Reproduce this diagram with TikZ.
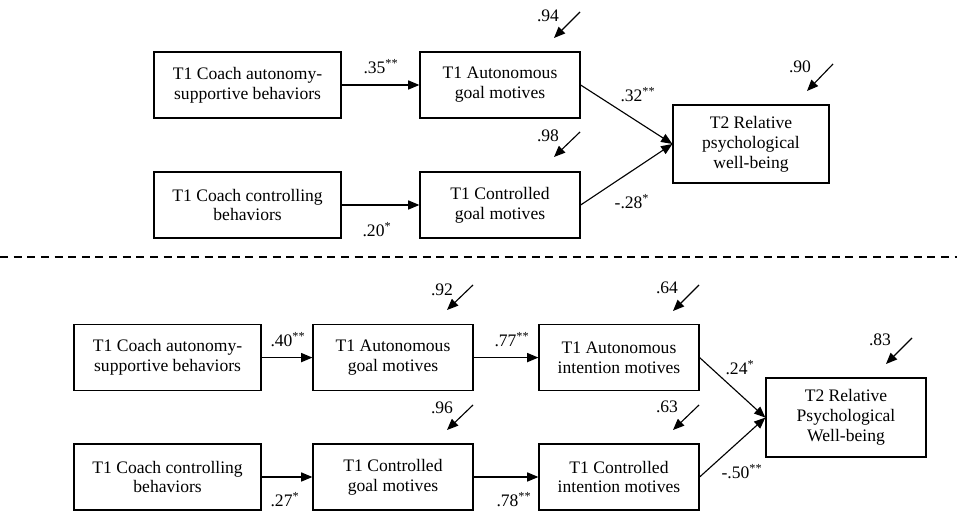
\documentclass[tikz,border=0pt]{standalone}
\usepackage{fontspec}
\setmainfont{Liberation Serif}
\usetikzlibrary{arrows.meta}

\begin{document}
\begin{tikzpicture}[
        box/.style={draw, line width=.9pt, align=center, inner sep=0pt,
                    minimum width=4cm, minimum height=1.65cm},
        wide/.style={box, minimum width=4.675cm},
        link/.style={line width=.8pt, -{Triangle[length=8pt,width=6.5pt]}},
        coef/.style={inner sep=0pt},
        font=\fontsize{12.5}{14.2}\selectfont]
    \useasboundingbox (0,0) rectangle (23.925,-12.8);

    % top model
    \node[wide] (A1) at (6.19,-2.125) {T1 Coach autonomy-\\supportive behaviors};
    \node[box] (B1) at (12.5,-2.125) {T1 Autonomous\\goal motives};
    \node[wide] (A2) at (6.19,-5.125) {T1 Coach controlling\\behaviors};
    \node[box] (B2) at (12.5,-5.125) {T1 Controlled\\goal motives};
    \node[box, minimum width=3.9cm, minimum height=1.95cm] (D) at (18.775,-3.6) {T2 Relative\\psychological\\well-being};

    \draw[link] (A1) -- (B1);
    \draw[link] (A2) -- (B2);
    \draw[link] (B1.east) -- (D.west);
    \draw[link] (B2.east) -- (D.west);

    \node[coef] (c35) at (9.525,-1.675) {.35\textsuperscript{**}};
    \node[coef] (c20) at (9.425,-5.75) {.20\textsuperscript{*}};
    \node[coef] (c32) at (15.95,-2.375) {.32\textsuperscript{**}};
    \node[coef] (c28) at (15.8,-5.05) {-.28\textsuperscript{*}};

    % residuals
    \node[coef] (r94) at (13.7,-0.4) {.94};
    \node[coef] (r98) at (13.7,-3.4) {.98};
    \node[coef] (r90) at (20.0,-1.675) {.90};
    \coordinate (s94) at (14.5,-0.3);   \coordinate (t94) at (13.85,-0.95);
    \coordinate (s98) at (14.5,-3.3);   \coordinate (t98) at (13.85,-3.925);
    \coordinate (s90) at (20.825,-1.6); \coordinate (t90) at (20.175,-2.275);
    \draw[link] (s94) -- (t94);
    \draw[link] (s98) -- (t98);
    \draw[link] (s90) -- (t90);

    % separator
    \coordinate (sepL) at (0,-6.425);
    \coordinate (sepR) at (23.925,-6.425);
    \draw[line width=.8pt, dash pattern=on 5.7pt off 4pt] (sepL) -- (sepR);

    % bottom model
    \node[wide] (E1) at (4.19,-8.94) {T1 Coach autonomy-\\supportive behaviors};
    \node[box] (F1) at (9.825,-8.94) {T1 Autonomous\\goal motives};
    \node[box] (G1) at (15.475,-8.94) {T1 Autonomous\\intention motives};
    \node[wide] (E2) at (4.19,-11.925) {T1 Coach controlling\\behaviors};
    \node[box] (F2) at (9.825,-11.925) {T1 Controlled\\goal motives};
    \node[box] (G2) at (15.475,-11.925) {T1 Controlled\\intention motives};
    \node[box, minimum height=1.975cm] (H) at (21.15,-10.44) {T2 Relative\\Psychological\\Well-being};

    \draw[link] (E1) -- (F1);
    \draw[link] (F1) -- (G1);
    \draw[link] (E2) -- (F2);
    \draw[link] (F2) -- (G2);
    \draw[link] (G1.east) -- (H.west);
    \draw[link] (G2.east) -- (H.west);

    \node[coef] (c40) at (7.2,-8.5) {.40\textsuperscript{**}};
    \node[coef] (c77) at (12.8,-8.5) {.77\textsuperscript{**}};
    \node[coef] (c27) at (7.125,-12.5) {.27\textsuperscript{*}};
    \node[coef] (c78) at (12.85,-12.5) {.78\textsuperscript{**}};
    \node[coef] (c24) at (18.5,-9.2) {.24\textsuperscript{*}};
    \node[coef] (c50) at (18.55,-11.8) {-.50\textsuperscript{**}};

    % residuals
    \node[coef] (r92) at (11.05,-7.25) {.92};
    \node[coef] (r96) at (11.05,-10.2) {.96};
    \node[coef] (r64) at (16.675,-7.2) {.64};
    \node[coef] (r63) at (16.675,-10.175) {.63};
    \node[coef] (r83) at (22.0,-8.5) {.83};
    \coordinate (s92) at (11.825,-7.125); \coordinate (t92) at (11.175,-7.75);
    \coordinate (s96) at (11.825,-10.125); \coordinate (t96) at (11.175,-10.75);
    \coordinate (s64) at (17.475,-7.125); \coordinate (t64) at (16.825,-7.775);
    \coordinate (s63) at (17.475,-10.125); \coordinate (t63) at (16.825,-10.75);
    \coordinate (s83) at (22.8,-8.45);    \coordinate (t83) at (22.15,-9.1);
    \draw[link] (s92) -- (t92);
    \draw[link] (s96) -- (t96);
    \draw[link] (s64) -- (t64);
    \draw[link] (s63) -- (t63);
    \draw[link] (s83) -- (t83);
\end{tikzpicture}
\end{document}
